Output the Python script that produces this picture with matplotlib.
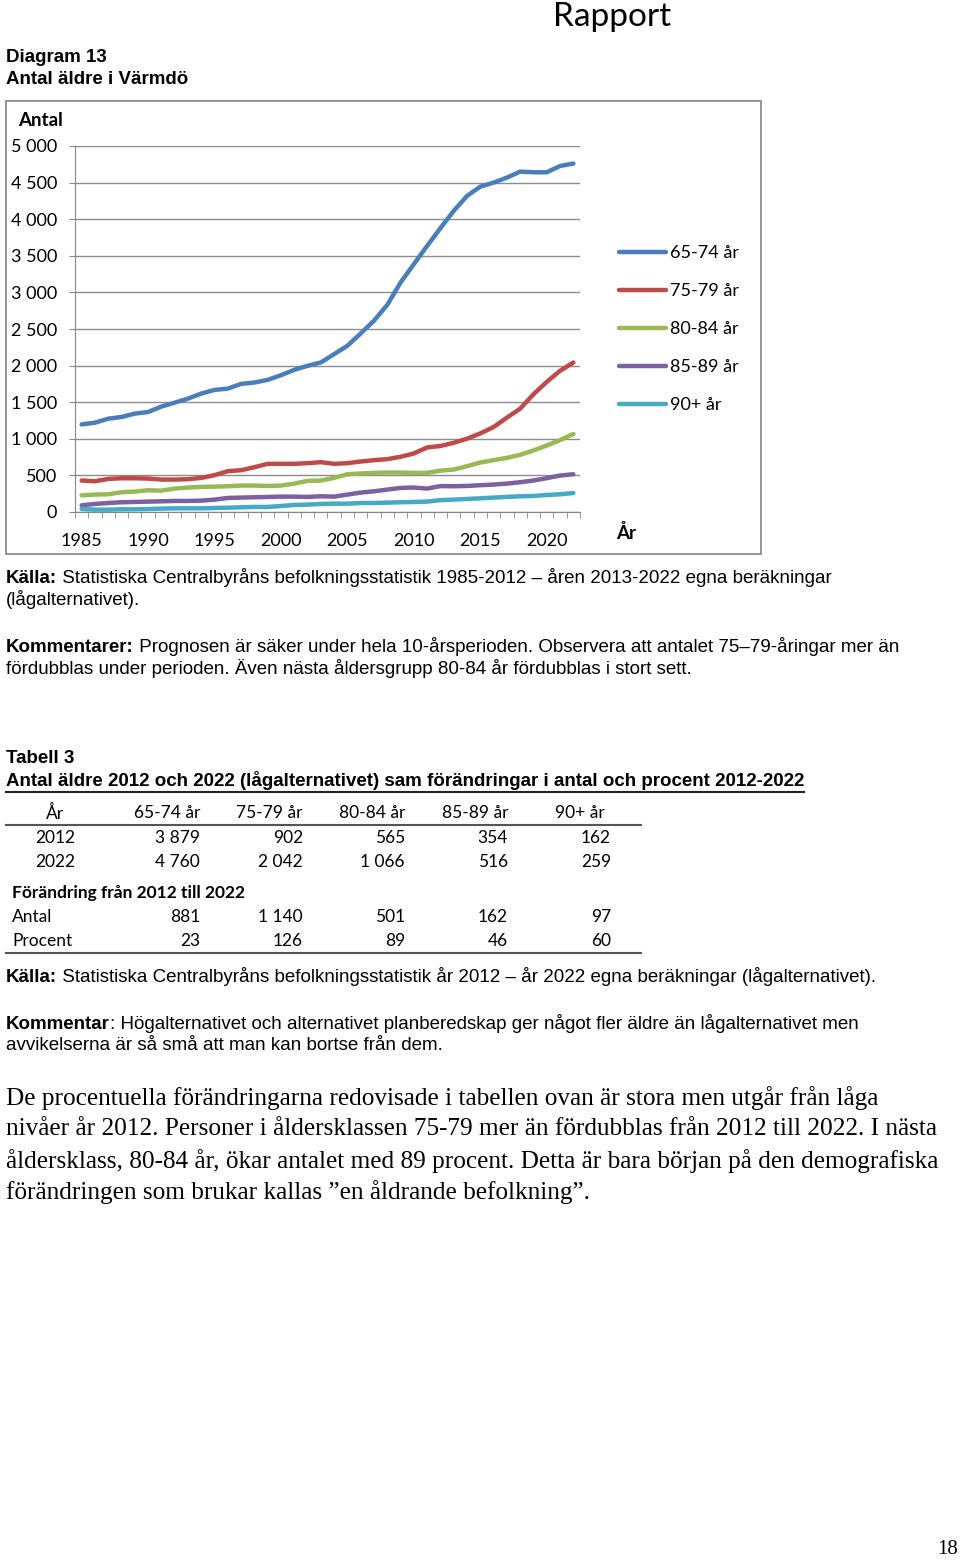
import numpy as np
import matplotlib.pyplot as plt
from matplotlib.lines import Line2D
from matplotlib.patches import Rectangle
from matplotlib.ticker import FuncFormatter

# data (1985-2012 SCB, 2013-2022 prognos)
years = list(range(1985, 2023))
age_65_74 = [1197, 1220, 1275, 1298, 1344, 1366, 1440, 1494, 1549, 1618,
             1668, 1686, 1750, 1769, 1805, 1869, 1942, 1997, 2043, 2157,
             2271, 2440, 2614, 2830, 3136, 3386, 3636, 3879, 4114, 4318,
             4445, 4500, 4568, 4650, 4641, 4641, 4727, 4760]
age_75_79 = [430, 420, 452, 461, 461, 457, 443, 443, 448, 466,
             503, 558, 571, 612, 658, 658, 658, 667, 681, 658,
             667, 690, 708, 722, 754, 800, 882, 902, 946, 1001,
             1074, 1161, 1289, 1412, 1609, 1778, 1929, 2042]
age_80_84 = [228, 238, 242, 270, 279, 297, 292, 320, 334, 343,
             347, 352, 361, 361, 356, 361, 388, 425, 430, 466,
             516, 526, 535, 539, 539, 535, 535, 565, 580, 626,
             676, 708, 740, 781, 841, 909, 983, 1066]
age_85_89 = [91, 110, 123, 133, 137, 142, 146, 151, 151, 155,
             169, 192, 197, 201, 206, 210, 210, 206, 215, 210,
             238, 265, 283, 306, 329, 334, 320, 354, 352, 356,
             366, 375, 388, 407, 430, 462, 498, 516]
age_90 = [41, 32, 32, 37, 37, 41, 46, 50, 50, 50,
          55, 59, 64, 69, 69, 82, 96, 101, 110, 114,
          114, 123, 123, 128, 133, 137, 142, 162, 169, 178,
          187, 197, 206, 215, 219, 233, 242, 259]
series_labels = ["65-74 år", "75-79 år", "80-84 år", "85-89 år", "90+ år"]
series_colors = ["#4a7ebb", "#be4b48", "#98b954", "#7d60a0", "#46aac5"]
label_years = [1985, 1990, 1995, 2000, 2005, 2010, 2015, 2020]

# tabell 3
table_header = ["År", "65-74 år", "75-79 år", "80-84 år", "85-89 år", "90+ år"]
row_2012 = [3879, 902, 565, 354, 162]
row_2022 = [4760, 2042, 1066, 516, 259]
change_antal = [881, 1140, 501, 162, 97]
change_pct = [23, 126, 89, 46, 60]

body_lines = [
    "De procentuella förändringarna redovisade i tabellen ovan är stora men utgår från låga",
    "nivåer år 2012. Personer i åldersklassen 75-79 mer än fördubblas från 2012 till 2022. I nästa",
    "åldersklass, 80-84 år, ökar antalet med 89 procent. Detta är bara början på den demografiska",
    "förändringen som brukar kallas ”en åldrande befolkning”.",
]

SANS = "Liberation Sans"
CAL = "Lato"
SERIF = "Liberation Serif"
FS = 13.5

W, H = 960, 1561
fig = plt.figure(figsize=(W / 100, H / 100), dpi=100)
renderer = fig.canvas.get_renderer()


def fx(x):
    return x / W


def fy(y):
    return 1 - y / H


def txt(x, y, s, size=FS, family=SANS, weight="normal", ha="left", va="center"):
    return fig.text(fx(x), fy(y), s, fontsize=size, family=family,
                    fontweight=weight, ha=ha, va=va)


def rich(x, y, parts, size=FS, family=SANS):
    # bold prefix followed by normal text, sharing one baseline
    for s, w in parts:
        t = txt(x, y + 6, s, size=size, family=family, weight=w, va="baseline")
        x = t.get_window_extent(renderer).x1
    return x


def hline(x0, x1, y, lw=1.5, color="#333333"):
    fig.add_artist(Line2D([fx(x0), fx(x1)], [fy(y), fy(y)],
                          transform=fig.transFigure, color=color, lw=lw))


def fmt(v):
    return f"{v:,}".replace(",", " ")


# header
txt(553, 17, "Rapport", size=24, family=CAL)
txt(6, 58, "Diagram 13", weight="bold")
txt(6, 80, "Antal äldre i Värmdö", weight="bold")

# chart frame
fig.add_artist(Rectangle((fx(6), fy(554)), (761 - 6) / W, (554 - 101) / H,
                         transform=fig.transFigure, fill=False,
                         ec="#8c8c8c", lw=1.3))

ax = fig.add_axes([fx(75), fy(512), (580 - 75) / W, (512 - 146) / H])
for vals, c, lab in zip([age_65_74, age_75_79, age_80_84, age_85_89, age_90],
                        series_colors, series_labels):
    ax.plot(years, vals, color=c, lw=3.2, label=lab, solid_capstyle="round",
            solid_joinstyle="round")

ax.set_xlim(1984.5, 2022.5)
ax.set_ylim(0, 5000)
ax.set_yticks(np.arange(0, 5001, 500))
ax.yaxis.set_major_formatter(FuncFormatter(lambda v, p: fmt(int(v))))
ax.set_xticks(label_years)
ax.set_xticks(np.arange(1984.5, 2023, 1), minor=True)
ax.tick_params(axis="x", which="major", length=0, pad=15, labelsize=13)
ax.tick_params(axis="x", which="minor", length=4, color="#868686", direction="out")
ax.tick_params(axis="y", length=4, color="#868686", pad=9, labelsize=13)
for lab in ax.get_xticklabels() + ax.get_yticklabels():
    lab.set_family(CAL)
ax.grid(axis="y", color="#8c8c8c", lw=1)
ax.set_axisbelow(True)
for s in ["top", "right"]:
    ax.spines[s].set_visible(False)
for s in ["left", "bottom"]:
    ax.spines[s].set_color("#868686")

txt(18, 121, "Antal", size=13.5, family=CAL, weight="bold")
txt(616, 533, "År", size=13.5, family=CAL, weight="bold")

leg = ax.legend(loc="upper left", bbox_to_anchor=(fx(619), fy(245)),
                bbox_transform=fig.transFigure, frameon=False, borderpad=0,
                borderaxespad=0, handlelength=2.6, handletextpad=0.25,
                labelspacing=1.22, prop={"family": CAL, "size": 13})

# sources and comments
rich(6, 577, [("Källa:", "bold"), (" Statistiska Centralbyråns befolkningsstatistik "
                                   "1985-2012 – åren 2013-2022 egna beräkningar", "normal")])
txt(6, 600, "(lågalternativet).")
rich(6, 646, [("Kommentarer:", "bold"), (" Prognosen är säker under hela 10-årsperioden. "
                                         "Observera att antalet 75–79-åringar mer än", "normal")])
txt(6, 669, "fördubblas under perioden. Även nästa åldersgrupp 80-84 år fördubblas i stort sett.")

# table 3
txt(6, 759, "Tabell 3", weight="bold")
t = txt(6, 781, "Antal äldre 2012 och 2022 (lågalternativet) sam förändringar i antal "
        "och procent 2012-2022", weight="bold")
hline(6, t.get_window_extent(renderer).x1, 792, lw=1.5, color="#222222")

col_right = [200, 303, 405, 508, 611]
txt(55, 813, table_header[0], size=12.5, family=CAL, ha="center")
for x, h in zip(col_right, table_header[1:]):
    txt(x if h != "90+ år" else x - 6, 813, h, size=12.5, family=CAL, ha="right")
hline(6, 641, 825, lw=1.5, color="#555555")
for y, lab, row in [(838, "2012", row_2012), (862, "2022", row_2022)]:
    txt(55, y, lab, size=12.5, family=CAL, ha="center")
    for x, v in zip(col_right, row):
        txt(x, y, fmt(v), size=12.5, family=CAL, ha="right")
txt(12, 893, "Förändring från 2012 till 2022", size=12.5, family=CAL, weight="bold")
for y, lab, row in [(917, "Antal", change_antal), (941, "Procent", change_pct)]:
    txt(12, y, lab, size=12.5, family=CAL)
    for x, v in zip(col_right, row):
        txt(x, y, fmt(v), size=12.5, family=CAL, ha="right")
hline(6, 641, 953, lw=1.5, color="#555555")

rich(6, 976, [("Källa:", "bold"), (" Statistiska Centralbyråns befolkningsstatistik år 2012 – "
                                   "år 2022 egna beräkningar (lågalternativet).", "normal")])
rich(6, 1023, [("Kommentar", "bold"), (": Högalternativet och alternativet planberedskap ger "
                                       "något fler äldre än lågalternativet men", "normal")])
txt(6, 1046, "avvikelserna är så små att man kan bortse från dem.")

for i, line in enumerate(body_lines):
    txt(6, 1098 + i * 31.3, line, size=18.2, family=SERIF)

txt(958, 1550, "18", size=15, family=SERIF, ha="right")

fig.savefig("out.png", dpi=100, facecolor="white")
